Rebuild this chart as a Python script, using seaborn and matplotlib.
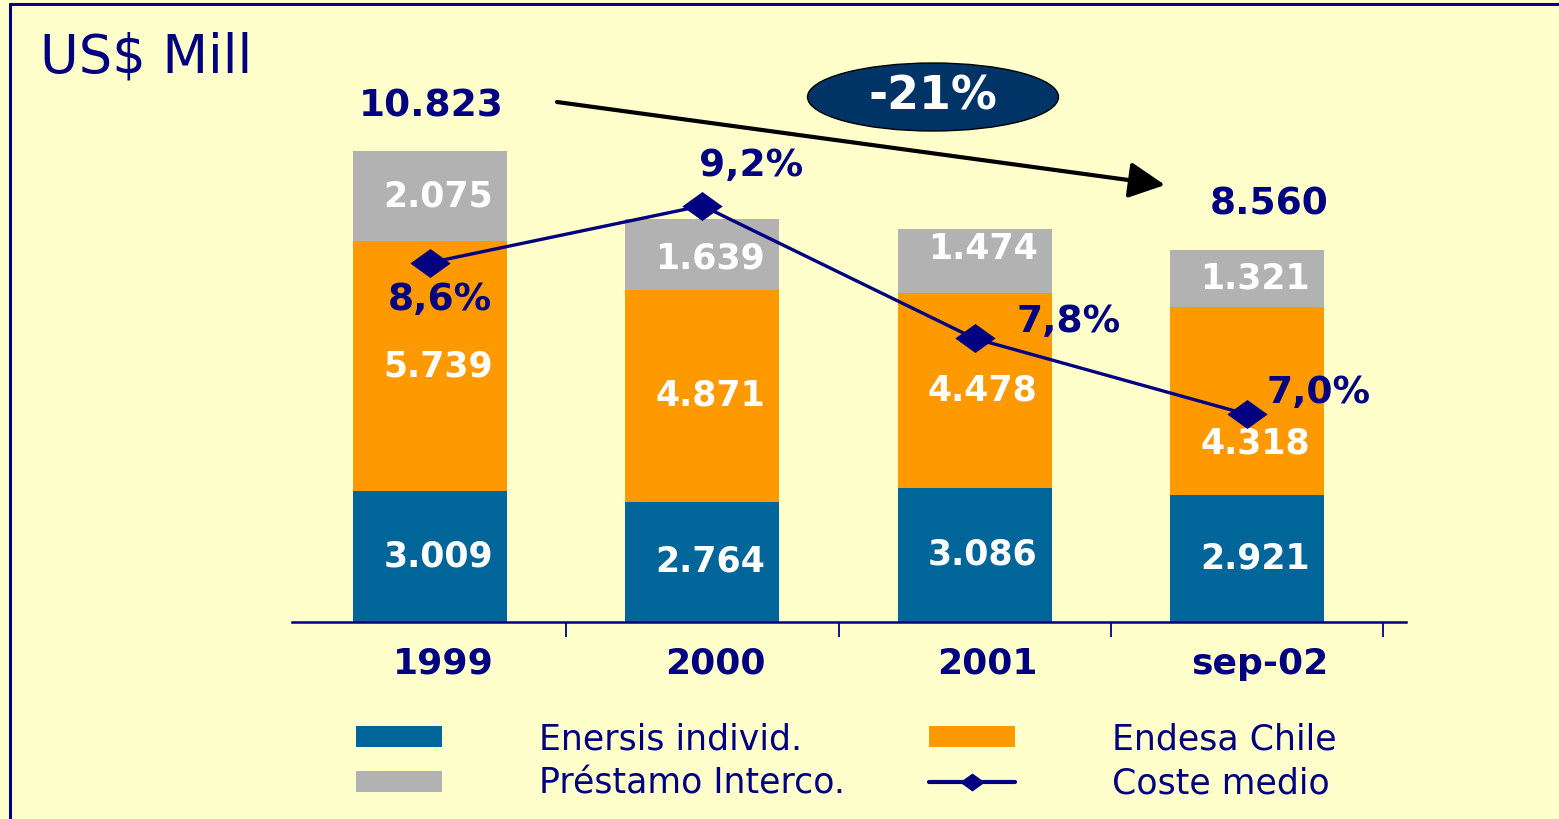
import numpy as np
import matplotlib
matplotlib.use('Agg')
import matplotlib.pyplot as plt
import matplotlib.path as mpath
import seaborn as sns

from matplotlib.lines import Line2D
from matplotlib.patches import Patch, Ellipse
from matplotlib.transforms import ScaledTranslation

# data (US$ Mill)
categories = ['1999', '2000', '2001', 'sep-02']
enersis = [3009, 2764, 3086, 2921]
endesa = [5739, 4871, 4478, 4318]
prestamo = [2075, 1639, 1474, 1321]
coste = [8.6, 9.2, 7.8, 7.0]
total_shown = [0, 3]
change_label = '-21%'

series_names = ['Enersis individ.', 'Endesa Chile', 'Préstamo Interco.', 'Coste medio']

navy = '#000080'
c_blue = '#006699'
c_orange = '#FF9900'
c_gray = '#B2B2B2'
bg = '#FFFFCC'

W, H = 1559, 819


def fmt_miles(v):
    return f'{v:,}'.replace(',', '.')


def fmt_pct(v):
    return f'{v:.1f}%'.replace('.', ',')


sns.set_style('white')
plt.rcParams['font.family'] = ['DejaVu Sans']

fig = plt.figure(figsize=(W / 100, H / 100), dpi=100, facecolor=bg)
ax = fig.add_axes([292 / W, (H - 622) / H, 1114 / W, 522 / H])
ax.set_facecolor('none')

# stacked bars drawn as overlaid cumulative sums
lower = np.array(enersis)
middle = lower + np.array(endesa)
top = middle + np.array(prestamo)
for vals, col in [(top, c_gray), (middle, c_orange), (lower, c_blue)]:
    sns.barplot(x=categories, y=vals, order=categories, color=col, saturation=1,
                width=0.566, errorbar=None, linewidth=0, ax=ax)

ax.set_ylim(0, 12000)
ax.set_xlabel('')
ax.set_ylabel('')
ax.set_yticks([])
for s in ['left', 'right', 'top']:
    ax.spines[s].set_visible(False)
ax.spines['bottom'].set_color(navy)
ax.spines['bottom'].set_linewidth(1.8)

# segment labels (small nudges in pixels where the line passes)
nudge = {(1, 3): -42, (2, 1): -4, (2, 2): 12}
bottoms = [np.zeros(4), lower, middle]
for s, (seg, base) in enumerate(zip([enersis, endesa, prestamo], bottoms)):
    for i, v in enumerate(seg):
        ax.annotate(fmt_miles(v), (i, base[i] + v / 2), xytext=(8, nudge.get((s, i), 0)),
                    textcoords='offset pixels', ha='center', va='center',
                    color='white', fontsize=25, fontweight='bold')

# totals
total_dx = [1, 22]
for k, i in enumerate(total_shown):
    ax.annotate(fmt_miles(int(top[i])), (i, top[i]), xytext=(total_dx[k], 45),
                textcoords='offset pixels', ha='center', va='center',
                color=navy, fontsize=27, fontweight='bold')

# average cost line on a secondary axis
diamond = mpath.Path([(-1, 0), (0, 0.72), (1, 0), (0, -0.72), (-1, 0)],
                     [1, 2, 2, 2, 79])
ax2 = ax.twinx()
sns.lineplot(x=np.arange(len(coste)), y=coste, ax=ax2, color=navy, linewidth=2.4,
             marker=diamond, markersize=29, markeredgewidth=0)
ax2.set_ylim(4.81, 10.315)
ax2.set_yticks([])
ax2.set_ylabel('')
for s in ax2.spines.values():
    s.set_visible(False)

pct_offsets = [(10, -37), (49, 40), (94, 16), (72, 21)]
for i, v in enumerate(coste):
    ax2.annotate(fmt_pct(v), (i, v), xytext=pct_offsets[i], textcoords='offset pixels',
                 ha='center', va='center', color=navy, fontsize=27, fontweight='bold')

# x axis
ax.set_xticks(range(len(categories)))
ax.set_xticklabels(categories, fontsize=26, fontweight='bold', color=navy)
ax.set_xticks([i + 0.5 for i in range(len(categories))], minor=True)
ax.tick_params(axis='x', which='major', length=0, pad=18)
ax.tick_params(axis='x', which='minor', bottom=True, length=11, width=1.3,
               color=navy, direction='out')
shift = ScaledTranslation(13 / 100, 0, fig.dpi_scale_trans)
for lbl in ax.get_xticklabels():
    lbl.set_transform(lbl.get_transform() + shift)
ax.set_xlim(-0.507, 3.584)

# title
fig.text(40 / W, (H - 72) / H, 'US$ Mill', fontsize=38, color=navy, ha='left', va='baseline')

# change bubble and arrow
fig.add_artist(Ellipse((933 / W, 1 - 97 / H), 251 / W, 68 / H, transform=fig.transFigure,
                       facecolor='#003366', edgecolor='black', linewidth=1))
fig.text(933 / W, 1 - 97 / H, change_label, ha='center', va='center', color='white',
         fontsize=33, fontweight='bold')
ax.annotate('', xy=(1165, H - 185), xycoords='figure pixels',
            xytext=(557, H - 102), textcoords='figure pixels',
            arrowprops=dict(arrowstyle='-|>,head_length=1.1,head_width=0.55',
                            color='black', lw=3, mutation_scale=20, shrinkA=0, shrinkB=0))

# slide frame
fig.add_artist(Line2D([10 / W, 10 / W], [0, 1 - 4 / H], transform=fig.transFigure,
                      color=navy, lw=2.2))
fig.add_artist(Line2D([10 / W, 1], [1 - 4 / H, 1 - 4 / H], transform=fig.transFigure,
                      color=navy, lw=2.2))

# legend
h_enersis = Patch(facecolor=c_blue, edgecolor='none')
h_endesa = Patch(facecolor=c_orange, edgecolor='none')
h_prestamo = Patch(facecolor=c_gray, edgecolor='none')
h_coste = Line2D([], [], color=navy, lw=3, marker=diamond, markersize=18, markeredgewidth=0)
fig.legend(handles=[h_enersis, h_prestamo, h_endesa, h_coste],
           labels=[series_names[0], series_names[2], series_names[1], series_names[3]],
           ncol=2, loc='upper left', bbox_to_anchor=(356 / W, 1 - 722 / H),
           frameon=False, fontsize=25, labelcolor=navy, handlelength=2.48,
           handleheight=0.55, handletextpad=2.8, columnspacing=2.4,
           labelspacing=0.3, borderpad=0, borderaxespad=0)

fig.savefig('out.png', dpi=100, facecolor=bg)
